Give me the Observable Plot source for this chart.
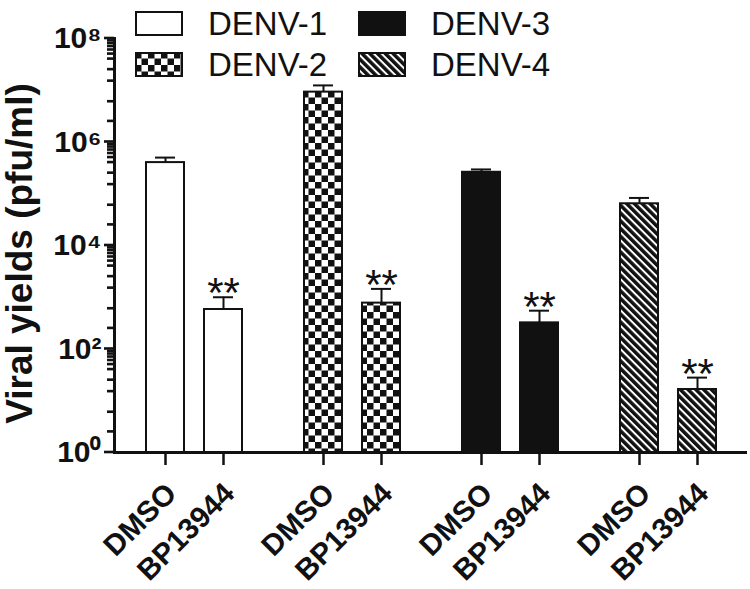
<!DOCTYPE html>
<html><head><meta charset="utf-8">
<script src="https://cdn.jsdelivr.net/npm/d3@7"></script>
<script src="https://cdn.jsdelivr.net/npm/@observablehq/plot@0.6"></script>
<style>
body{margin:0;background:#fff;}
#wrap{position:relative;width:750px;height:589px;font-family:"Liberation Sans",Arial,sans-serif;}
#chart svg, #yaxis svg{position:absolute;left:0;top:0;}
#yaxis{pointer-events:none;}
#legend{position:absolute;left:0;top:0;width:750px;height:0;}
.item{position:absolute;display:flex;align-items:center;font-size:33px;color:#111;line-height:1;}
.item svg{margin-right:25px;}
</style></head><body>
<svg width="0" height="0" style="position:absolute">
<defs>
<pattern id="checker" patternUnits="userSpaceOnUse" width="13" height="13">
 <rect width="13" height="13" fill="#fff"/>
 <rect width="6.5" height="6.5" fill="#111"/>
 <rect x="6.5" y="6.5" width="6.5" height="6.5" fill="#111"/>
</pattern>
<pattern id="hatch" patternUnits="userSpaceOnUse" width="5.5" height="5.5" patternTransform="rotate(-45)">
 <rect width="5.5" height="5.5" fill="#fff"/>
 <rect width="3.5" height="5.5" fill="#111"/>
</pattern>
</defs></svg>
<div id="wrap"><div id="chart"></div><div id="yaxis"></div><div id="legend"></div></div>
<script>
// ---- data ----
const viruses = ["DENV-1", "DENV-2", "DENV-3", "DENV-4"];
const treatments = ["DMSO", "BP13944"];
const dmsoMean = [4.0e5, 9.2e6, 2.6e5, 6.4e4];
const dmsoErrHigh = [5.0e5, 1.24e7, 2.95e5, 8.3e4];
const bpMean = [580, 770, 320, 16.5];
const bpErrHigh = [1000, 1450, 550, 28];
const significance = ["**", "**", "**", "**"];
const virusFills = ["#fff", "url(#checker)", "#111", "url(#hatch)"];
const majorTicks = [1, 1e2, 1e4, 1e6, 1e8];
const yTickLabels = ["10\u2070", "10\u00B2", "10\u2074", "10\u2076", "10\u2078"];
const minorTickFactors = [2.5, 6, 15, 25, 40, 50, 60, 70, 80, 90];
const yTitle = "Viral yields (pfu/ml)";

const data = viruses.flatMap((v, i) => treatments.map((t, j) => ({
  virus: v, treatment: t,
  value: j ? bpMean[i] : dmsoMean[i],
  hi: j ? bpErrHigh[i] : dmsoErrHigh[i],
  sig: j ? significance[i] : ""
})));
const minorTicks = [1, 1e2, 1e4, 1e6].flatMap(b => minorTickFactors.map(f => b * f));

const font = "Liberation Sans, Arial, sans-serif";
const ink = "#111";
const W = 750, H = 589, mL = 114, mR = 2, mT = 38, mB = 137;
const majorTickLen = 10, minorTickLen = 7;
const tickHalf = 1.06; // half tick thickness, as a factor on the log axis
const yScale = {type: "log", domain: [1, 1e8], label: null, axis: null};
const style = {fontFamily: font, color: ink, background: "transparent", overflow: "visible"};

// main chart: faceted bars by virus
const chart = Plot.plot({
  width: W, height: H,
  marginTop: mT, marginBottom: mB, marginLeft: mL, marginRight: mR,
  style,
  fx: {domain: viruses, paddingInner: 0, paddingOuter: 0, axis: null, label: null},
  x: {domain: treatments, paddingInner: 0.35, paddingOuter: 0.53, label: null},
  y: yScale,
  color: {domain: viruses, range: virusFills},
  marks: [
    Plot.barY(data, {fx: "virus", x: "treatment", y1: 1, y2: "value", fill: "virus", stroke: ink, strokeWidth: 2}),
    Plot.ruleX(data, {fx: "virus", x: "treatment", y1: "value", y2: "hi", stroke: ink, strokeWidth: 2}),
    Plot.tickY(data, {fx: "virus", x: "treatment", y: "hi", stroke: ink, strokeWidth: 2, insetLeft: 9, insetRight: 9}),
    Plot.text(data.filter(d => d.sig), {fx: "virus", x: "treatment", y: "hi", text: "sig", fontSize: 42, lineAnchor: "bottom", dy: 10, fill: ink, fontFamily: font}),
    Plot.ruleY([1], {stroke: ink, strokeWidth: 3}),
    Plot.axisX({tickSize: 13, strokeWidth: 2.5, tickFormat: () => "", label: null}),
    Plot.axisX({tickSize: 0, tickRotate: -45, fontSize: 29.5, fontWeight: "bold", tickPadding: 36, dx: 6, label: null})
  ]
});
document.getElementById("chart").appendChild(chart);

// y axis: a narrow plot whose frame is the tick strip left of the axis line
const yaxis = Plot.plot({
  width: mL + 2, height: H,
  marginTop: mT, marginBottom: mB, marginLeft: mL - majorTickLen, marginRight: 2,
  style,
  y: yScale,
  marks: [
    Plot.rect(minorTicks, {y1: d => d / tickHalf, y2: d => d * tickHalf, insetLeft: majorTickLen - minorTickLen, fill: ink}),
    Plot.rect(majorTicks, {y1: d => d / tickHalf, y2: d => d * tickHalf, fill: ink}),
    Plot.frame({anchor: "right", stroke: ink, strokeWidth: 3}),
    Plot.axisY({ticks: majorTicks, tickSize: 0, tickPadding: 3, fontSize: 30, fontWeight: "bold",
      tickFormat: d => yTickLabels[majorTicks.indexOf(d)], label: null}),
    Plot.text([yTitle], {text: d => d, frameAnchor: "left", textAnchor: "middle", rotate: -90, dx: -84, dy: 8,
      fontSize: 37, fontWeight: "bold", fill: ink, fontFamily: font})
  ]
});
document.getElementById("yaxis").appendChild(yaxis);

// ---- legend ----
const legendPos = [[135, 7], [135, 48], [358, 7], [358, 48]];
const legend = document.getElementById("legend");
viruses.forEach((v, i) => {
  const item = document.createElement("div");
  item.className = "item";
  item.style.left = legendPos[i][0] + "px";
  item.style.top = legendPos[i][1] + "px";
  item.innerHTML = `<svg width="48" height="25"><rect x="1" y="1" width="46" height="23" fill="${virusFills[i]}" stroke="${ink}" stroke-width="2"/></svg><span>${v}</span>`;
  legend.appendChild(item);
});
</script>
</body></html>
